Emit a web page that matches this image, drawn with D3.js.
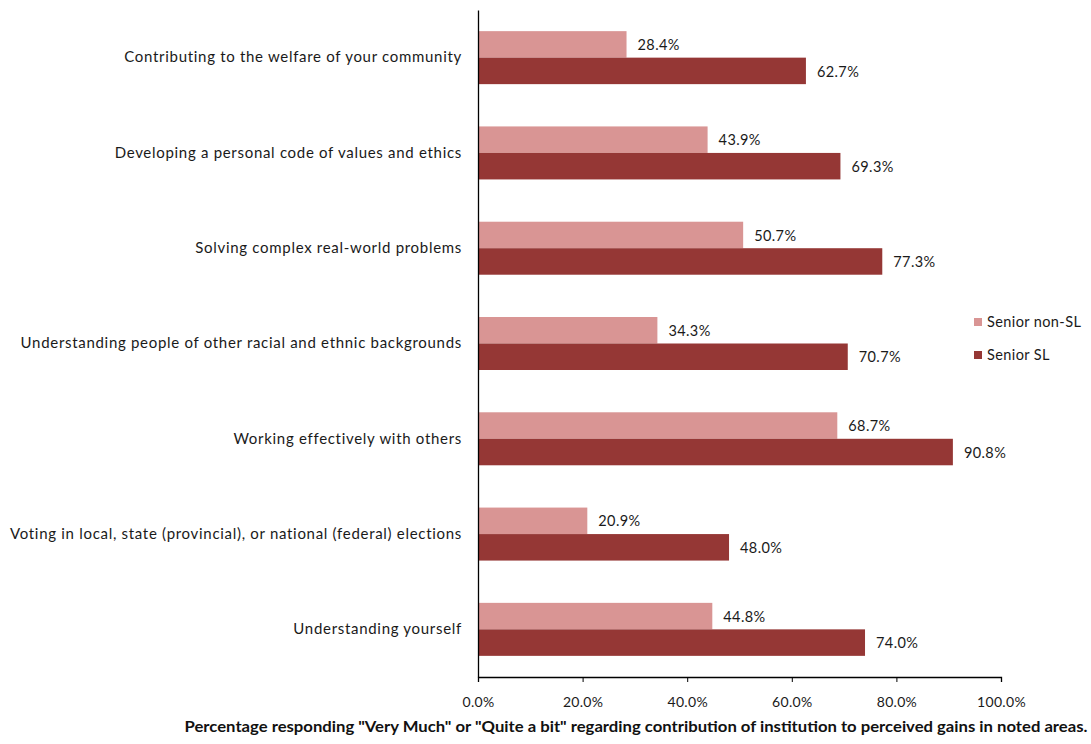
<!DOCTYPE html>
<html><head><meta charset="utf-8">
<script src="https://cdn.jsdelivr.net/npm/d3@7"></script>
<style>body{margin:0;background:#fff}svg{display:block}</style>
</head><body>
<script>
const categories = [
  "Contributing to the welfare of your community",
  "Developing a personal code of values and ethics",
  "Solving complex real-world problems",
  "Understanding people of other racial and ethnic backgrounds",
  "Working effectively with others",
  "Voting in local, state (provincial), or national (federal) elections",
  "Understanding yourself"
];
const seriesNames = ["Senior non-SL", "Senior SL"];
const nonSL = [28.4, 43.9, 50.7, 34.3, 68.7, 20.9, 44.8];
const SL = [62.7, 69.3, 77.3, 70.7, 90.8, 48.0, 74.0];
const xTicks = [0, 20, 40, 60, 80, 100];
const colors = ["#D99594", "#953735"];
const xTitle = 'Percentage responding "Very Much" or "Quite a bit" regarding contribution of institution to perceived gains in noted areas.';

(function () {
const W = 1091, H = 744;
const svg = d3.select("body").append("svg").attr("width", W).attr("height", H);
const mLeft = 478, mRight = 1001, mTop = 10, mBottom = 677;
const x = d3.scaleLinear().domain([0, 100]).range([mLeft, mRight]);
const y = d3.scaleBand().domain(categories).range([mTop, mBottom]);
const inner = d3.scaleBand().domain(seriesNames).range([0, 53]);
const font = "Lato, 'Open Sans', sans-serif";
const txt = "#1a1a1a";

const data = [nonSL, SL];
categories.forEach((c, i) => {
  const g = svg.append("g").attr("transform", `translate(0,${y(c) + y.bandwidth()/2 - 26.5})`);
  seriesNames.forEach((s, k) => {
    const v = data[k][i];
    g.append("rect").attr("x", x(0)).attr("y", inner(s))
      .attr("width", x(v) - x(0)).attr("height", inner.bandwidth())
      .attr("fill", colors[k]);
    g.append("text").attr("x", x(v) + 11).attr("y", inner(s) + inner.bandwidth()/2 + 2)
      .attr("dominant-baseline", "middle").attr("font-family", font).attr("font-size", 14.5)
      .attr("letter-spacing", 0.4).attr("fill", txt).text(v.toFixed(1) + "%");
  });
});

const yAxis = svg.append("g").attr("transform", `translate(${mLeft},0)`)
  .call(d3.axisLeft(y).tickSize(0).tickPadding(16));
yAxis.select(".domain").attr("stroke", "#000").attr("stroke-width", 1.3);
yAxis.selectAll("text").attr("font-family", font).attr("font-size", 15)
  .attr("letter-spacing", 0.7).attr("fill", txt);

const xAxis = svg.append("g").attr("transform", `translate(0,${mBottom})`)
  .call(d3.axisBottom(x).tickValues(xTicks).tickSize(5).tickSizeOuter(5).tickPadding(15)
    .tickFormat(d => d.toFixed(1) + "%"));
xAxis.select(".domain").attr("stroke", "#000").attr("stroke-width", 1.3);
xAxis.selectAll("line").attr("stroke", "#000");
xAxis.selectAll("text").attr("font-family", font).attr("font-size", 14).attr("letter-spacing", 0.3).attr("fill", txt);

svg.append("text").attr("x", 636).attr("y", 732).attr("text-anchor", "middle")
  .attr("font-family", "Lato, 'Liberation Sans', Arial, sans-serif")
  .attr("font-weight", "bold").attr("font-size", 14.5).attr("fill", "#111")
  .attr("textLength", 903).attr("lengthAdjust", "spacingAndGlyphs").text(xTitle);

const lg = svg.append("g").attr("transform", "translate(974,318)");
seriesNames.forEach((s, k) => {
  lg.append("rect").attr("x", 0).attr("y", k * 33).attr("width", 8).attr("height", 8).attr("fill", colors[k]);
  lg.append("text").attr("x", 13).attr("y", k * 33 + 5).attr("dominant-baseline", "middle")
    .attr("font-family", font).attr("font-size", 14.5).attr("letter-spacing", 0.4)
    .attr("fill", txt).text(s);
});
})();
</script>
</body></html>
